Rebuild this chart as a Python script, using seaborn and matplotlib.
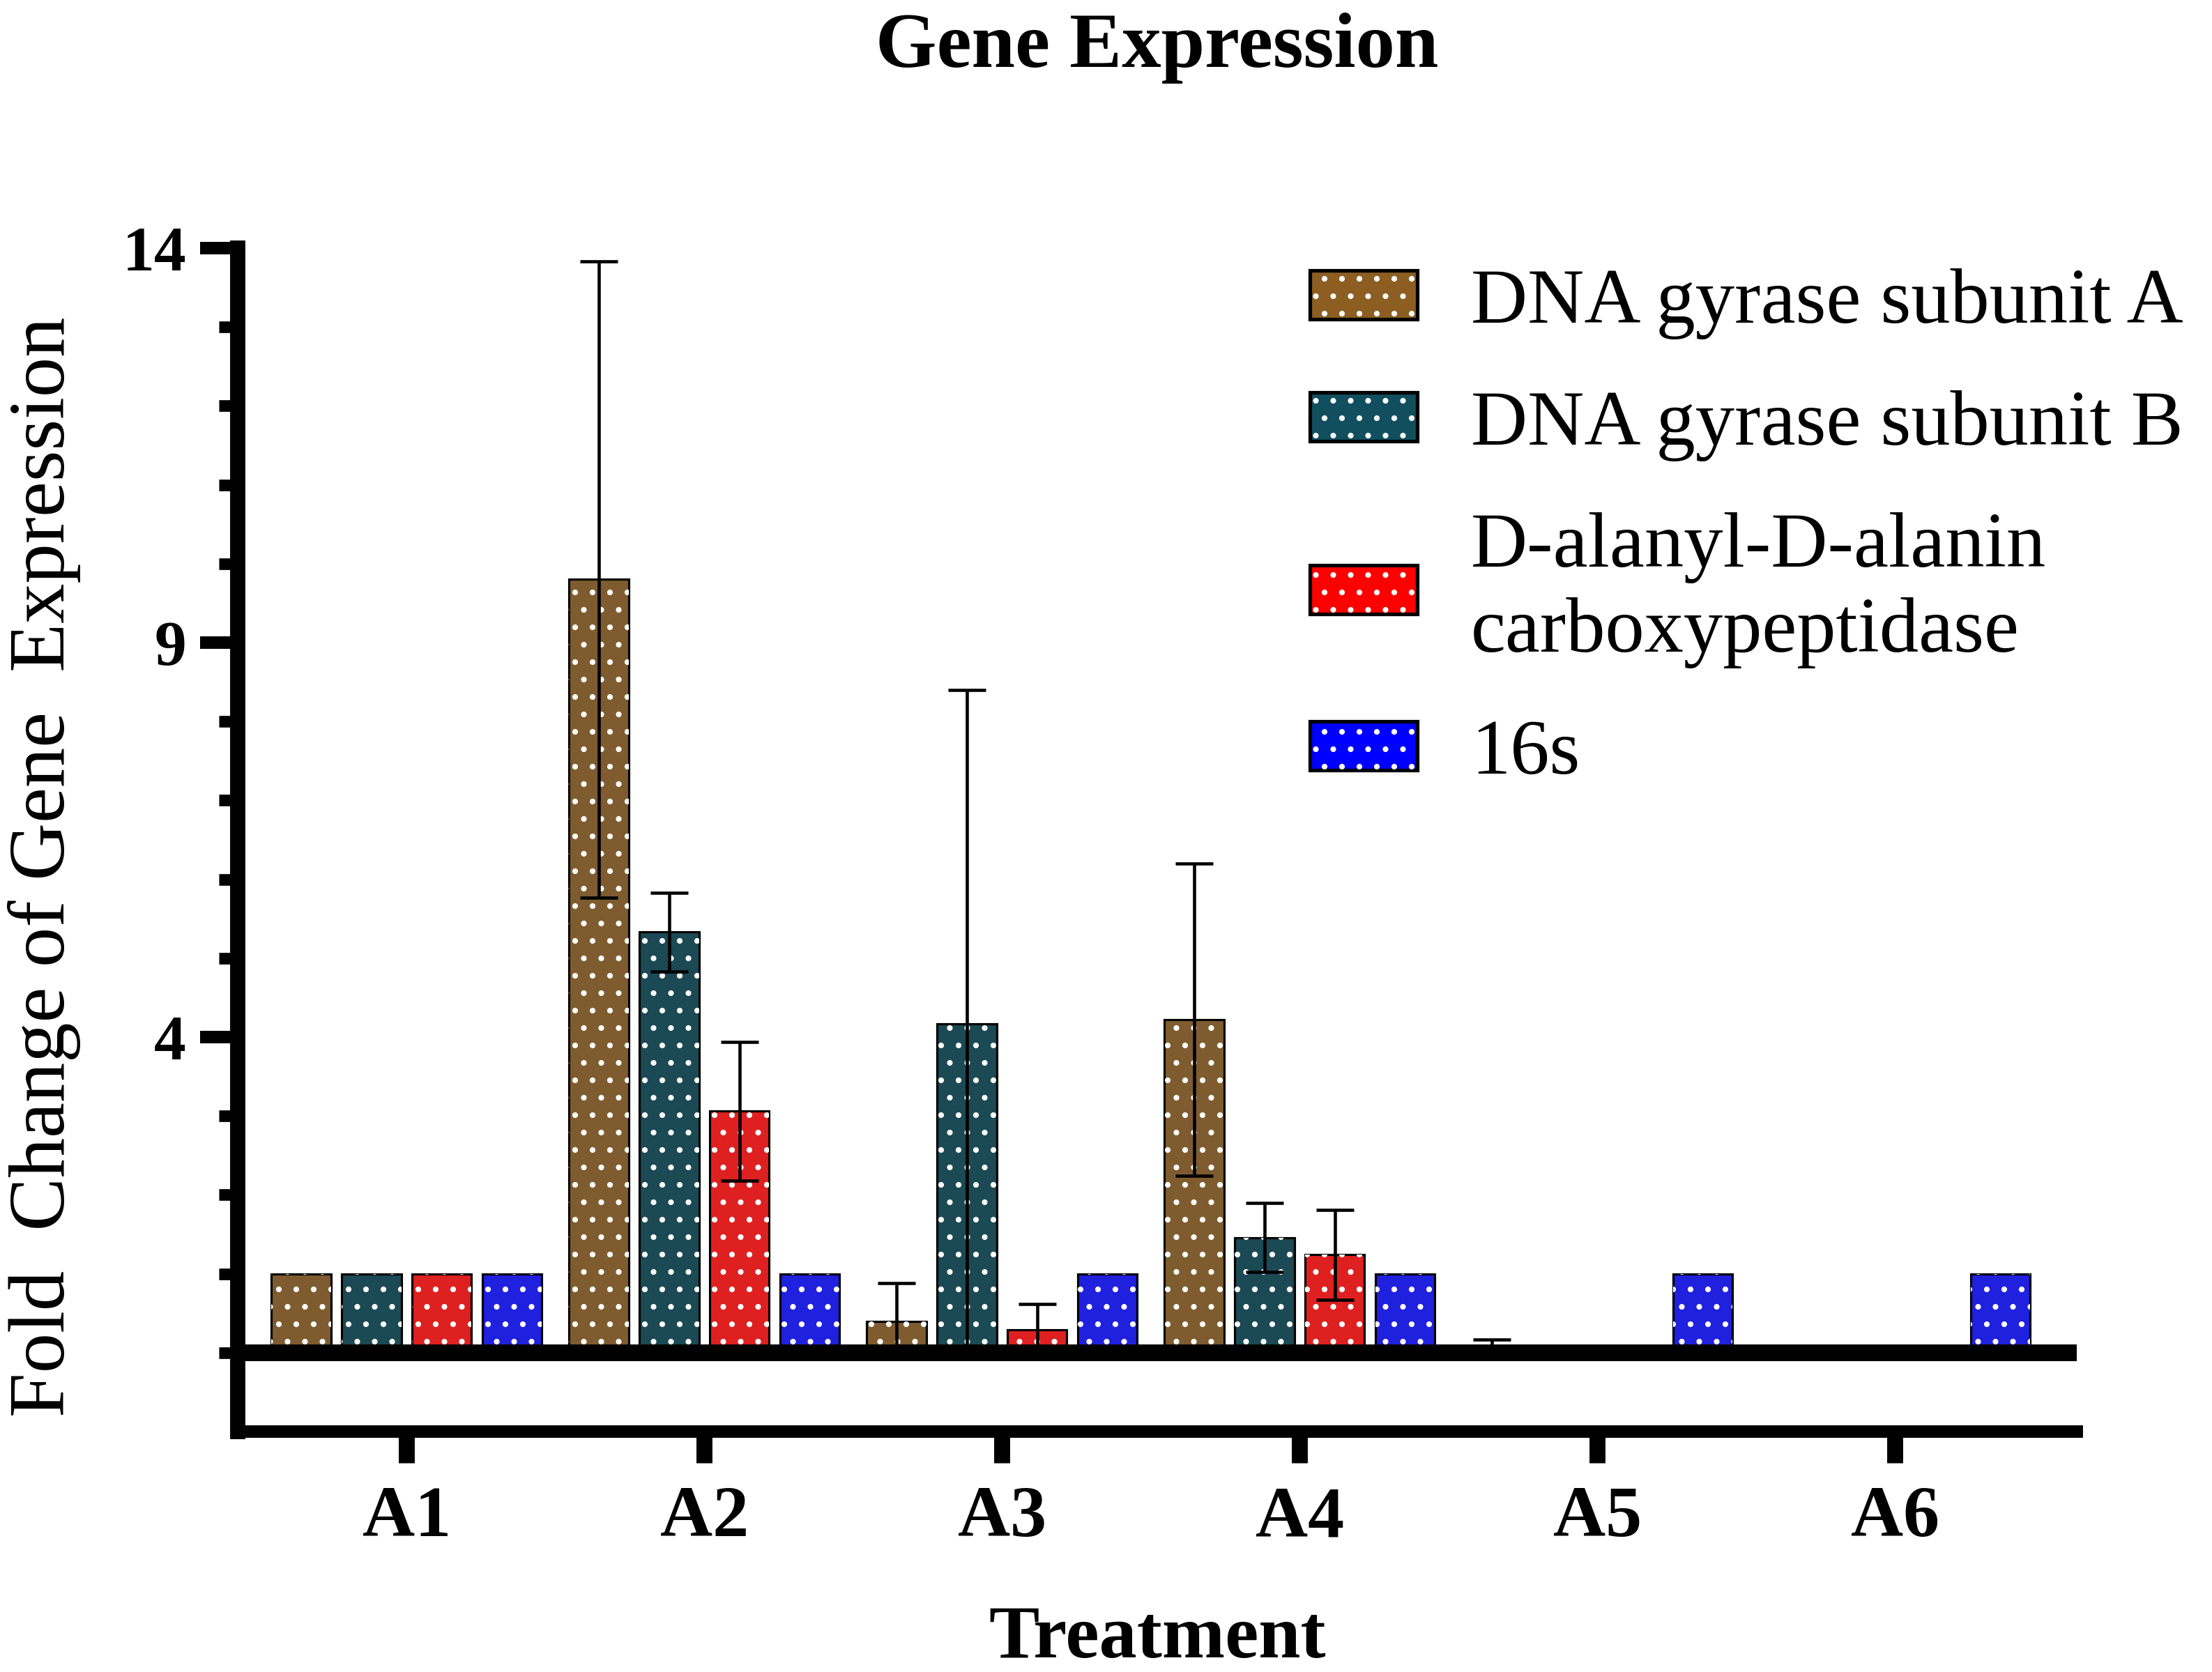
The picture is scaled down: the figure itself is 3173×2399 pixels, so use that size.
import pandas as pd
import matplotlib
matplotlib.use("Agg")
import matplotlib.pyplot as plt
from matplotlib.patches import Patch, Rectangle
from matplotlib.legend_handler import HandlerTuple
from matplotlib.ticker import FixedLocator
import seaborn as sns

# data
treatments = ['A1', 'A2', 'A3', 'A4', 'A5', 'A6']
genes = ['DNA gyrase subunit A', 'DNA gyrase subunit B',
         'D-alanyl-D-alanin\ncarboxypeptidase', '16s']
colors = ['#8C5E22', '#114F5E', '#FF0000', '#0000FF']

gyrA_mean = [1.0, 9.8, 0.40, 4.22, 0.05, 0.0]
gyrA_sd = [0.0, 4.03, 0.48, 1.98, 0.12, 0.0]
gyrB_mean = [1.0, 5.33, 4.17, 1.46, 0.0, 0.0]
gyrB_sd = [0.0, 0.50, 4.23, 0.44, 0.0, 0.0]
dala_mean = [1.0, 3.06, 0.29, 1.24, 0.02, 0.0]
dala_sd = [0.0, 0.88, 0.33, 0.57, 0.07, 0.0]
s16_mean = [1.0, 1.0, 1.0, 1.0, 1.0, 1.0]
s16_sd = [0.0, 0.0, 0.0, 0.0, 0.0, 0.0]

means = [gyrA_mean, gyrB_mean, dala_mean, s16_mean]
sds = [gyrA_sd, gyrB_sd, dala_sd, s16_sd]

rows = []
for g, m in zip(genes, means):
    for t, v in zip(treatments, m):
        rows.append({'Treatment': t, 'Gene': g, 'Fold': v})
df = pd.DataFrame(rows)

sns.set_style('ticks')
plt.rcParams['font.family'] = ['Liberation Serif']
plt.rcParams['hatch.linewidth'] = 1.5
for key in ['text.color', 'axes.labelcolor', 'xtick.color', 'ytick.color',
            'axes.edgecolor']:
    plt.rcParams[key] = 'black'

fig = plt.figure(figsize=(3173 / 150, 2399 / 150), dpi=150)
ax = fig.add_axes([0.1075, 0.1438, 0.8314, 0.7078])

sns.barplot(data=df, x='Treatment', y='Fold', hue='Gene', hue_order=genes,
            palette=colors, width=0.944, gap=0.15, edgecolor='black',
            linewidth=1.5, errorbar=None, legend=False, ax=ax)

# white dotted fill on top of each bar
for p in list(ax.patches):
    ax.add_patch(Rectangle((p.get_x(), p.get_y()), p.get_width(), p.get_height(),
                           fill=False, edgecolor='white', linewidth=0,
                           hatch='.', zorder=p.get_zorder() + 0.1))

# error bars (mean +/- SD)
for cont, m, s in zip(ax.containers, means, sds):
    xs = [b.get_x() + b.get_width() / 2 for b in cont]
    keep = [i for i in range(len(xs)) if s[i] > 0]
    ax.errorbar([xs[i] for i in keep], [m[i] for i in keep],
                yerr=[s[i] for i in keep], fmt='none', ecolor='black',
                elinewidth=2.2, capsize=13, capthick=2.2, zorder=4)

# thick baseline at zero
ax.axhline(0, color='black', lw=11.5, zorder=5)

ax.set_xlim(-0.567, 5.611)
ax.set_ylim(-1, 14)
ax.set_yticks([4, 9, 14])
ax.yaxis.set_minor_locator(FixedLocator([0, 1, 2, 3, 5, 6, 7, 8, 10, 11, 12, 13]))

for side in ['top', 'right']:
    ax.spines[side].set_visible(False)
ax.spines['left'].set_linewidth(10.5)
ax.spines['bottom'].set_linewidth(8.6)

ax.tick_params(axis='y', which='major', length=26, width=8.6, pad=9.6,
               labelsize=44)
ax.tick_params(axis='y', which='minor', length=13, width=8.0)
ax.tick_params(axis='x', which='major', length=21.6, width=11, pad=16,
               labelsize=50)
for lab in ax.get_xticklabels() + ax.get_yticklabels():
    lab.set_fontweight('bold')

ax.set_title('Gene Expression', fontsize=54, fontweight='bold', pad=125)
ax.set_xlabel('Treatment', fontsize=52, fontweight='bold')
ax.xaxis.set_label_coords(0.5, -0.1465)
ax.set_ylabel('Fold  Change of Gene  Expression', fontsize=55)
ax.yaxis.set_label_coords(-0.0853, 0.477)

handles = [(Patch(facecolor=c, edgecolor='black', linewidth=2.5),
            Patch(fill=False, edgecolor='white', linewidth=0, hatch='.'))
           for c in colors]
leg = fig.legend(handles, genes, loc='upper left', bbox_to_anchor=(0.5922, 0.8395),
                 frameon=False, fontsize=54, handlelength=1.37, handleheight=0.58,
                 handletextpad=0.68, labelspacing=0.65, borderpad=0,
                 borderaxespad=0, handler_map={tuple: HandlerTuple(ndivide=1)})
for t in leg.get_texts():
    t.set_linespacing(1.25)

fig.savefig('out.png', dpi=150)
